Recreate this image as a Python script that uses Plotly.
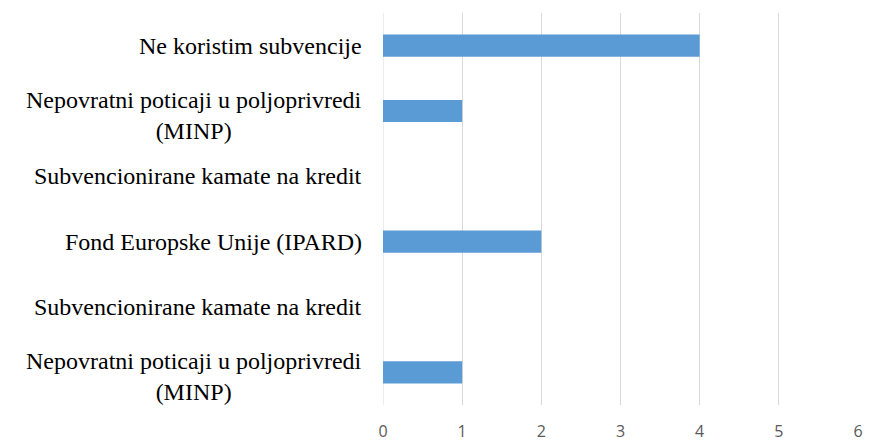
import plotly.graph_objects as go

categories = [
    "Nepovratni poticaji u poljoprivredi<br>(MINP)",
    "Subvencionirane kamate na kredit",
    "Fond Europske Unije (IPARD)",
    "Subvencionirane kamate na kredit",
    "Nepovratni poticaji u poljoprivredi<br>(MINP)",
    "Ne koristim subvencije",
]
values = [1, 0, 2, 0, 1, 4]
x_ticks = [0, 1, 2, 3, 4, 5, 6]

positions = list(range(len(categories)))

fig = go.Figure()
fig.add_trace(go.Bar(
    x=values, y=positions, orientation="h",
    marker=dict(color="#5b9bd5", line=dict(color="#5b9bd5", width=0)),
    width=0.34, hoverinfo="x",
))

label_font = dict(family="Liberation Serif", size=24, color="#000000")
for pos, lab in zip(positions, categories):
    fig.add_annotation(
        x=0, xref="paper", y=pos, yref="y", text=lab,
        showarrow=False, xanchor="right", yanchor="middle", align="center",
        xshift=-19, yshift=-4 if "<br>" in lab else 0,
        font=label_font,
    )

fig.update_layout(
    width=869, height=441,
    margin=dict(l=383, r=11, t=13, b=36),
    paper_bgcolor="white", plot_bgcolor="white",
    showlegend=False,
    xaxis=dict(
        range=[0, 6], tickvals=x_ticks, showgrid=True, gridcolor="#d9d9d9",
        gridwidth=1, zeroline=False, showline=False, automargin=False,
        ticks="", ticklabelstandoff=15,
        tickfont=dict(family="Open Sans", size=16, color="#595959"),
    ),
    yaxis=dict(
        range=[-0.5, len(categories) - 0.5], showticklabels=False,
        showgrid=False, zeroline=False, showline=False, automargin=False,
    ),
)
fig.add_shape(type="line", xref="x", yref="paper", x0=0, x1=0, y0=0, y1=1,
              line=dict(color="#d9d9d9", width=1), layer="below")

fig.write_html(
    "out.html",
    config={"displayModeBar": False},
    post_script="document.body.style.margin='0';document.body.style.overflow='hidden';",
)
